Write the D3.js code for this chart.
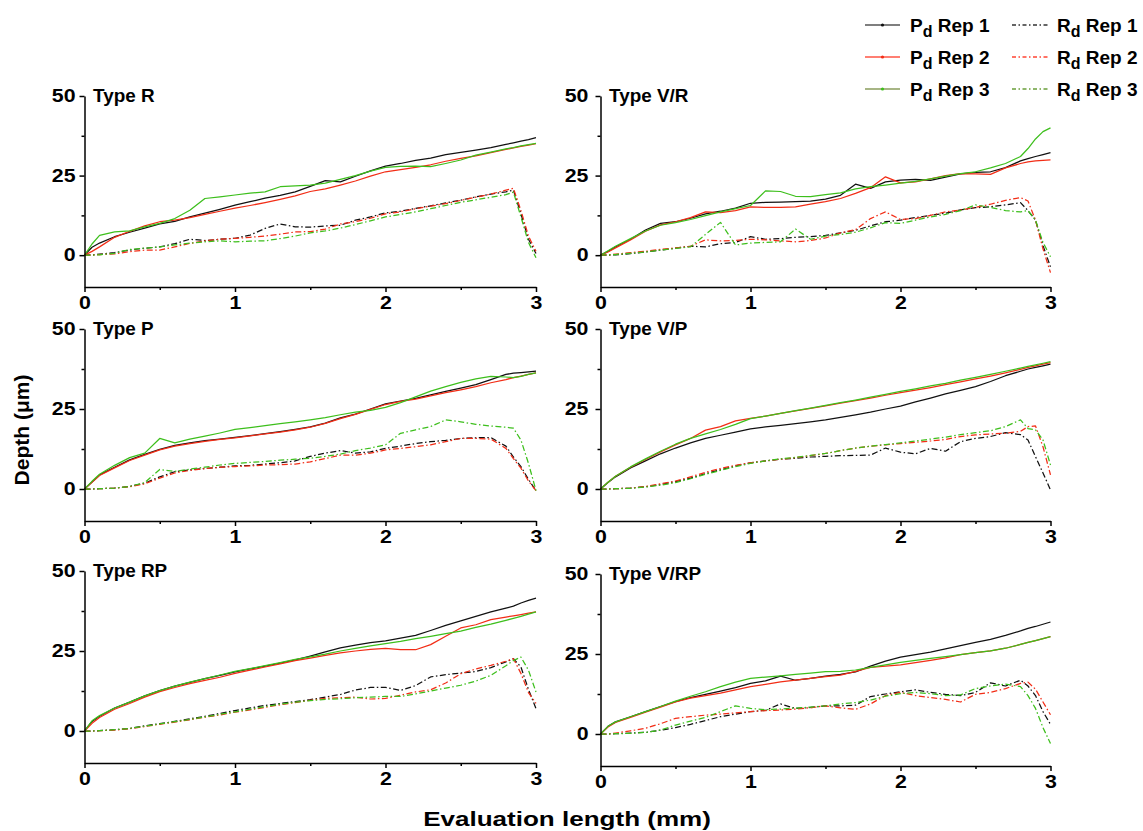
<!DOCTYPE html>
<html><head><meta charset="utf-8">
<script src="https://cdn.jsdelivr.net/npm/d3@7"></script>
<style>
body{margin:0;background:#fff}
svg{display:block}
text{font-family:"Liberation Sans",Arial,Helvetica,sans-serif;font-weight:bold;fill:#000}
</style>
</head><body><svg id="c" width="1143" height="831"></svg>
<script>
// ---------- data ----------
const xGrid = [0, 0.05, 0.1, 0.2, 0.3, 0.4, 0.5, 0.6, 0.7, 0.8,
               0.9, 1.0, 1.1, 1.2, 1.3, 1.4, 1.5, 1.6, 1.7, 1.8,
               1.9, 2.0, 2.1, 2.2, 2.3, 2.4, 2.5, 2.6, 2.7, 2.8,
               2.85, 2.9, 2.95, 3.0];
const panelTitles = ["Type R", "Type V/R", "Type P", "Type V/P", "Type RP", "Type V/RP"];
const seriesNames = ["Pd Rep 1", "Pd Rep 2", "Pd Rep 3", "Rd Rep 1", "Rd Rep 2", "Rd Rep 3"];
const xTicks = [0, 1, 2, 3];
const xMinorTicks = [0.5, 1.5, 2.5];
const yTicks = [0, 25, 50];
const yMinorTicks = [12.5, 37.5];
const xTitle = "Evaluation length (mm)";
const yTitle = "Depth (\u03bcm)";

// Type R
const R_Pd1 = [0, 2.5, 3.8, 5.8, 7.2, 8.5, 9.8, 10.6, 12.0, 13.2, 14.4, 15.7, 16.8, 17.9, 18.8, 19.9, 21.6, 23.4, 23.0, 24.8, 26.5, 28.0, 28.8, 29.8, 30.5, 31.6, 32.3, 33.0, 33.8, 34.8, 35.3, 35.8, 36.3, 36.9];
const R_Pd2 = [0, 1.2, 2.6, 5.6, 7.5, 9.2, 10.5, 11.0, 11.8, 12.8, 13.8, 14.8, 15.6, 16.5, 17.5, 18.6, 20.0, 20.8, 22.0, 23.3, 24.8, 26.2, 26.9, 27.6, 28.4, 29.5, 30.4, 31.2, 32.2, 33.2, 33.7, 34.2, 34.6, 35.0];
const R_Pd3 = [0, 3.5, 6.2, 7.3, 7.6, 8.9, 10.0, 11.5, 14.1, 17.8, 18.3, 18.9, 19.5, 19.9, 21.5, 21.8, 22.0, 22.6, 23.8, 25.0, 26.4, 27.6, 27.9, 28.0, 27.8, 28.8, 29.9, 31.4, 32.4, 33.4, 33.8, 34.3, 34.7, 35.1];
const R_Rd1 = [0, 0.1, 0.3, 0.8, 1.6, 2.2, 2.6, 3.6, 5.0, 4.6, 5.0, 5.3, 6.3, 8.4, 9.8, 8.9, 8.8, 9.2, 9.4, 11.0, 12.0, 13.3, 13.8, 14.7, 15.5, 16.4, 17.3, 18.3, 19.2, 19.9, 20.4, 13.0, 5.0, 0.5];
const R_Rd2 = [0, 0, 0.2, 0.4, 1.1, 1.6, 1.6, 2.6, 3.7, 4.5, 5.0, 5.3, 5.6, 6.0, 6.6, 7.3, 7.4, 8.2, 9.8, 10.5, 11.6, 13.0, 13.6, 14.6, 15.4, 16.2, 17.2, 18.2, 19.2, 20.4, 21.0, 14.0, 6.0, 1.2];
const R_Rd3 = [0, 0, 0.1, 0.6, 1.8, 2.2, 2.6, 3.2, 3.8, 4.2, 4.5, 4.2, 4.4, 4.5, 5.2, 6.0, 7.0, 7.6, 8.5, 9.6, 10.8, 12.0, 12.8, 13.6, 14.6, 15.6, 16.6, 17.4, 18.2, 19.0, 19.8, 12.0, 4.0, -0.8];
// Type V/R
const VR_Pd1 = [0, 1.2, 2.6, 5.0, 7.9, 10.0, 10.5, 11.6, 13.0, 13.8, 14.8, 16.3, 16.6, 16.7, 16.8, 17.0, 17.6, 18.8, 22.3, 21.0, 23.0, 23.6, 23.8, 23.5, 24.5, 25.5, 26.0, 26.2, 27.5, 29.6, 30.3, 31.0, 31.6, 32.2];
const VR_Pd2 = [0, 1.0, 2.3, 4.8, 7.5, 9.5, 10.5, 11.8, 13.6, 13.4, 14.0, 15.2, 15.0, 15.0, 15.2, 16.0, 16.8, 17.8, 19.4, 21.2, 24.6, 22.7, 23.0, 24.0, 25.0, 25.6, 25.5, 25.4, 27.4, 28.8, 29.3, 29.6, 29.8, 29.9];
const VR_Pd3 = [0, 1.4, 2.8, 5.2, 7.6, 9.4, 10.2, 11.2, 12.4, 13.6, 14.6, 15.6, 20.2, 20.0, 18.5, 18.4, 19.0, 19.6, 20.8, 21.5, 22.0, 22.6, 23.2, 24.0, 24.8, 25.6, 26.2, 27.4, 28.8, 31.0, 33.5, 36.5, 38.8, 40.0];
const VR_Rd1 = [0, 0, 0.1, 0.5, 1.0, 1.6, 2.2, 2.8, 2.6, 3.6, 4.0, 5.8, 5.0, 5.2, 5.6, 5.8, 6.2, 7.0, 7.8, 9.2, 10.5, 11.0, 11.8, 12.5, 13.2, 14.2, 14.9, 15.2, 15.8, 16.5, 14.0, 11.0, 3.0, -3.7];
const VR_Rd2 = [0, 0.1, 0.3, 0.8, 1.2, 1.8, 2.3, 2.8, 4.8, 4.5, 4.6, 5.0, 4.8, 4.5, 4.2, 4.6, 5.4, 7.0, 8.0, 11.5, 13.6, 11.2, 11.5, 12.5, 13.6, 14.2, 15.0, 16.0, 17.2, 18.1, 17.0, 11.0, 2.0, -5.5];
const VR_Rd3 = [0, 0.1, 0.2, 0.6, 1.0, 1.6, 2.1, 2.6, 6.5, 10.3, 3.2, 3.8, 4.0, 4.2, 8.2, 5.0, 6.0, 6.5, 7.2, 8.6, 10.2, 10.0, 11.0, 12.0, 12.8, 14.0, 15.8, 15.0, 14.0, 13.6, 14.0, 11.0, 4.0, -0.5];
// Type P
const P_Pd1 = [0, 2.2, 4.4, 6.8, 9.1, 10.8, 12.4, 13.6, 14.4, 15.1, 15.6, 16.1, 16.7, 17.3, 17.9, 18.6, 19.4, 20.6, 22.2, 23.4, 25.0, 26.6, 27.5, 28.3, 29.4, 30.5, 31.5, 32.6, 34.2, 35.8, 36.2, 36.4, 36.6, 36.8];
const P_Pd2 = [0, 2.1, 4.2, 6.6, 8.9, 10.6, 12.2, 13.4, 14.2, 14.9, 15.5, 16.0, 16.6, 17.2, 17.8, 18.5, 19.3, 20.5, 22.0, 23.3, 24.9, 26.4, 27.4, 28.1, 29.1, 30.1, 31.0, 32.0, 33.2, 34.2, 34.8, 35.3, 35.8, 36.3];
const P_Pd3 = [0, 2.4, 4.6, 7.4, 9.8, 11.2, 15.8, 14.4, 15.6, 16.5, 17.5, 18.6, 19.2, 19.8, 20.4, 21.0, 21.6, 22.3, 23.2, 24.0, 24.6, 25.5, 27.0, 28.8, 30.6, 32.0, 33.3, 34.4, 35.2, 35.0, 34.8, 35.2, 35.8, 36.3];
const P_Rd1 = [0, 0, 0.1, 0.3, 0.8, 1.8, 3.8, 5.4, 6.0, 6.4, 6.8, 7.2, 7.4, 7.8, 8.2, 8.8, 10.2, 11.2, 12.0, 11.2, 11.6, 12.7, 13.4, 14.2, 14.8, 15.2, 15.8, 16.0, 16.1, 13.4, 10.0, 7.0, 3.0, -0.5];
const P_Rd2 = [0, 0, 0.1, 0.3, 0.7, 1.6, 3.4, 5.0, 5.8, 6.4, 6.8, 7.0, 7.2, 7.5, 7.6, 7.8, 8.5, 9.5, 10.6, 10.6, 11.2, 12.2, 12.7, 13.2, 13.8, 14.8, 15.8, 15.8, 15.6, 12.7, 9.5, 6.5, 2.5, -0.5];
const P_Rd3 = [0, 0, 0.1, 0.3, 0.8, 2.0, 6.1, 5.5, 6.2, 6.8, 7.5, 8.0, 8.3, 8.6, 9.0, 9.3, 9.6, 10.2, 10.9, 12.0, 12.8, 13.8, 17.4, 18.5, 19.5, 21.6, 21.0, 20.2, 19.7, 19.3, 19.0, 15.3, 8.0, -0.5];
// Type V/P
const VP_Pd1 = [0, 2.0, 3.8, 6.6, 8.8, 11.0, 12.8, 14.4, 15.8, 16.8, 17.8, 18.8, 19.4, 19.9, 20.4, 21.0, 21.6, 22.4, 23.2, 24.0, 25.0, 25.9, 27.2, 28.4, 29.7, 30.8, 32.0, 33.6, 35.4, 36.8, 37.5, 38.0, 38.5, 39.0];
const VP_Pd2 = [0, 2.1, 4.0, 6.8, 9.2, 11.6, 13.8, 15.8, 18.4, 19.5, 21.3, 22.1, 22.8, 23.6, 24.4, 25.2, 26.0, 26.8, 27.6, 28.4, 29.3, 30.1, 30.9, 31.7, 32.6, 33.5, 34.4, 35.3, 36.3, 37.4, 38.0, 38.5, 39.0, 39.5];
const VP_Pd3 = [0, 2.1, 4.0, 6.9, 9.4, 11.8, 14.0, 15.8, 17.2, 18.6, 20.2, 22.0, 22.8, 23.6, 24.5, 25.3, 26.1, 27.0, 27.8, 28.7, 29.6, 30.5, 31.3, 32.2, 33.0, 34.0, 34.9, 35.8, 36.8, 37.8, 38.3, 38.8, 39.3, 39.8];
const VP_Rd1 = [0, 0, 0.1, 0.3, 0.7, 1.4, 2.3, 3.4, 4.8, 6.0, 7.2, 8.2, 8.8, 9.3, 9.6, 10.0, 10.2, 10.4, 10.5, 10.6, 12.8, 11.5, 11.0, 12.7, 11.8, 14.8, 15.8, 16.4, 17.6, 17.0, 15.3, 10.1, 5.0, -0.3];
const VP_Rd2 = [0, 0, 0.1, 0.3, 0.8, 1.6, 2.5, 3.8, 5.2, 6.4, 7.4, 8.2, 8.8, 9.3, 9.8, 10.4, 11.1, 12.0, 12.8, 13.4, 13.8, 14.2, 14.6, 15.0, 15.5, 16.4, 16.9, 17.2, 17.4, 18.0, 19.5, 19.7, 13.2, 4.4];
const VP_Rd3 = [0, 0, 0.1, 0.2, 0.6, 1.2, 2.0, 3.2, 4.6, 5.8, 7.0, 8.0, 8.8, 9.4, 9.9, 10.5, 11.1, 12.0, 12.8, 13.4, 13.9, 14.4, 15.0, 15.6, 16.2, 17.0, 17.6, 18.2, 19.5, 21.6, 18.9, 18.5, 15.3, 7.5];
// Type RP
const RP_Pd1 = [0, 3.0, 4.6, 7.2, 9.0, 11.0, 12.6, 14.0, 15.2, 16.4, 17.4, 18.5, 19.4, 20.3, 21.2, 22.2, 23.4, 24.7, 26.0, 26.8, 27.6, 28.2, 29.0, 29.9, 31.4, 33.0, 34.4, 35.8, 37.2, 38.4, 39.0, 40.0, 40.8, 41.5];
const RP_Pd2 = [0, 2.4, 4.2, 6.8, 8.6, 10.6, 12.3, 13.6, 14.8, 15.8, 16.8, 18.0, 19.0, 20.0, 21.0, 22.0, 22.8, 23.6, 24.4, 25.0, 25.5, 25.8, 25.4, 25.4, 27.0, 29.6, 32.2, 33.2, 34.8, 35.6, 36.0, 36.4, 36.8, 37.2];
const RP_Pd3 = [0, 3.2, 4.8, 7.2, 9.0, 11.0, 12.6, 14.0, 15.3, 16.4, 17.5, 18.6, 19.5, 20.4, 21.4, 22.4, 23.2, 24.0, 25.0, 25.8, 26.6, 27.3, 28.0, 28.9, 29.6, 30.4, 31.2, 32.4, 33.4, 34.6, 35.2, 35.8, 36.5, 37.2];
const RP_Rd1 = [0, 0, 0.1, 0.4, 0.8, 1.6, 2.3, 3.0, 3.8, 4.6, 5.5, 6.4, 7.2, 8.0, 8.6, 9.2, 9.8, 10.6, 11.4, 12.8, 13.6, 13.6, 12.7, 14.2, 16.9, 17.6, 18.1, 18.6, 19.8, 21.6, 22.6, 20.0, 13.0, 7.0];
const RP_Rd2 = [0, 0, 0.1, 0.3, 0.7, 1.4, 2.1, 2.8, 3.5, 4.3, 5.0, 5.9, 6.6, 7.4, 8.2, 8.9, 9.6, 10.2, 10.4, 10.6, 10.0, 10.2, 11.2, 12.2, 12.9, 15.0, 17.9, 19.4, 20.5, 21.8, 22.6, 18.0, 12.0, 8.6];
const RP_Rd3 = [0, 0, 0.1, 0.4, 0.8, 1.5, 2.2, 2.9, 3.6, 4.4, 5.2, 6.0, 6.8, 7.6, 8.4, 9.0, 9.5, 9.9, 10.1, 10.4, 10.6, 10.8, 10.8, 11.6, 12.5, 13.4, 14.3, 15.6, 17.4, 20.4, 22.0, 23.1, 19.0, 12.2];
// Type V/RP
const VRP_Pd1 = [0, 2.4, 3.8, 5.4, 7.0, 8.6, 10.1, 11.4, 12.4, 13.4, 14.5, 15.8, 16.6, 18.1, 16.8, 17.4, 18.1, 18.6, 19.4, 21.2, 22.8, 24.0, 24.8, 25.6, 26.6, 27.6, 28.6, 29.6, 30.8, 32.2, 33.0, 33.6, 34.3, 35.0];
const VRP_Pd2 = [0, 2.2, 3.6, 5.2, 6.8, 8.4, 10.0, 11.2, 12.0, 12.8, 13.8, 14.8, 15.5, 16.3, 16.8, 17.4, 17.9, 18.4, 19.6, 20.8, 21.2, 21.6, 22.3, 23.0, 23.8, 24.8, 25.4, 26.0, 26.8, 28.0, 28.6, 29.2, 29.8, 30.4];
const VRP_Pd3 = [0, 2.4, 3.8, 5.4, 7.0, 8.6, 10.3, 11.8, 13.2, 14.8, 16.2, 17.4, 17.8, 18.2, 18.6, 19.0, 19.5, 19.6, 20.0, 20.8, 21.6, 22.4, 23.0, 23.6, 24.2, 24.8, 25.4, 26.0, 26.8, 28.0, 28.6, 29.2, 29.8, 30.4];
const VRP_Rd1 = [0, 0, 0.1, 0.3, 0.5, 1.2, 2.0, 3.0, 4.2, 5.4, 6.2, 7.0, 7.4, 9.4, 8.0, 8.3, 8.8, 8.8, 9.0, 11.7, 12.5, 13.2, 13.8, 13.0, 12.4, 12.0, 13.0, 16.0, 15.0, 16.8, 15.0, 12.0, 7.0, 3.0];
const VRP_Rd2 = [0, 0, 0.3, 1.0, 1.8, 3.2, 4.9, 5.4, 5.9, 6.2, 6.6, 7.0, 7.3, 7.5, 7.8, 8.2, 8.8, 8.2, 7.7, 9.4, 12.0, 13.0, 12.0, 11.4, 10.8, 10.0, 12.4, 13.0, 14.2, 15.8, 16.2, 14.0, 10.0, 6.0];
const VRP_Rd3 = [0, 0, 0.1, 0.2, 0.5, 1.2, 2.8, 4.0, 5.2, 7.0, 8.8, 8.0, 7.6, 7.8, 8.1, 8.4, 8.8, 9.4, 9.8, 10.6, 11.8, 12.6, 13.0, 12.6, 12.0, 12.2, 14.2, 15.0, 15.6, 14.8, 12.0, 8.0, 2.0, -3.0];

const panelSeries = [
  [R_Pd1, R_Pd2, R_Pd3, R_Rd1, R_Rd2, R_Rd3],
  [VR_Pd1, VR_Pd2, VR_Pd3, VR_Rd1, VR_Rd2, VR_Rd3],
  [P_Pd1, P_Pd2, P_Pd3, P_Rd1, P_Rd2, P_Rd3],
  [VP_Pd1, VP_Pd2, VP_Pd3, VP_Rd1, VP_Rd2, VP_Rd3],
  [RP_Pd1, RP_Pd2, RP_Pd3, RP_Rd1, RP_Rd2, RP_Rd3],
  [VRP_Pd1, VRP_Pd2, VRP_Pd3, VRP_Rd1, VRP_Rd2, VRP_Rd3]
];

// ---------- styles / layout ----------
const seriesColors = ["#111111", "#f22d16", "#3dbf1c", "#111111", "#f22d16", "#3dbf1c"];
const legendColors = ["#555555", "#ff5544", "#8a9c5c", "#333333", "#ff4433", "#6a9e3a"];
const dashPattern = "6,2.5,1.5,2.5";
const layout = [
  {x0: 84.5, x1: 536,  yTop: 96,  yBot: 287, gap: 9},
  {x0: 600.5, x1: 1050.5, yTop: 96, yBot: 287, gap: 12},
  {x0: 84.5, x1: 536,  yTop: 329, yBot: 521, gap: 9},
  {x0: 600.5, x1: 1050.5, yTop: 329, yBot: 521, gap: 12},
  {x0: 84.5, x1: 536,  yTop: 571, yBot: 763, gap: 9},
  {x0: 600.5, x1: 1050.5, yTop: 574, yBot: 766, gap: 12}
];
const tickFont = 17.5, tickSX = 1.22;

const svg = d3.select("#c");

layout.forEach((L, i) => {
  const x = d3.scaleLinear().domain([0, 3]).range([L.x0, L.x1]);
  const y = d3.scaleLinear().domain([-10, 50]).range([L.yBot, L.yTop]);
  const g = svg.append("g");

  // series
  const line = d3.line().x(d => x(d[0])).y(d => y(d[1]));
  panelSeries[i].forEach((vals, k) => {
    const pts = xGrid.slice(0, vals.length).map((t, j) => [t, vals[j]]);
    g.append("path").datum(pts)
      .attr("d", line)
      .attr("fill", "none")
      .attr("stroke", seriesColors[k])
      .attr("stroke-width", 1.25)
      .attr("stroke-linejoin", "round")
      .attr("stroke-dasharray", k >= 3 ? dashPattern : null);
  });

  // y axis
  const ya = g.append("g").attr("transform", `translate(${L.x0},0)`)
    .call(d3.axisLeft(y).tickValues(yTicks).tickFormat(d3.format("d")).tickSize(5).tickSizeOuter(0).tickPadding(L.gap - 5));
  const yam = g.append("g").attr("transform", `translate(${L.x0},0)`)
    .call(d3.axisLeft(y).tickValues(yMinorTicks).tickSize(3).tickSizeOuter(0).tickFormat(""));
  yam.select(".domain").remove();
  // x axis
  const xa = g.append("g").attr("transform", `translate(0,${L.yBot})`)
    .call(d3.axisBottom(x).tickValues(xTicks).tickFormat(d3.format("d")).tickSize(5).tickSizeOuter(0).tickPadding(5));
  const xam = g.append("g").attr("transform", `translate(0,${L.yBot})`)
    .call(d3.axisBottom(x).tickValues(xMinorTicks).tickSize(3).tickSizeOuter(0).tickFormat(""));
  xam.select(".domain").remove();

  [ya, yam, xa, xam].forEach(a => {
    a.selectAll("path, line").attr("stroke", "#000").attr("stroke-width", 1.5);
  });
  [ya, xa].forEach(a => {
    a.selectAll("text")
      .attr("font-size", tickFont)
      .attr("font-weight", "bold")
      .attr("fill", "#000")
      .style("font-family", '"Liberation Sans", Arial, sans-serif');
  });
  ya.selectAll("text").each(function() {
    const t = d3.select(this);
    const xx = +t.attr("x");
    t.attr("x", xx / tickSX).attr("transform", `scale(${tickSX},1)`);
  });
  xa.selectAll("text").attr("transform", `scale(${tickSX},1)`);

  // panel title
  g.append("text")
    .attr("transform", `translate(${L.x0 + 8.5},${y(50) + 6}) scale(1.08,1)`)
    .attr("font-size", 17.5)
    .text(panelTitles[i]);
});

// axis titles
svg.append("text")
  .attr("transform", `translate(567,826) scale(1.24,1)`)
  .attr("text-anchor", "middle")
  .attr("font-size", 21)
  .text(xTitle);
svg.append("text")
  .attr("transform", `translate(29,430) rotate(-90) scale(1.05,1)`)
  .attr("text-anchor", "middle")
  .attr("font-size", 20)
  .text(yTitle);

// legend
const legCols = [{lx0: 865, lx1: 900, tx: 910}, {lx0: 1012, lx1: 1048, tx: 1057}];
const legRows = [25, 57, 89];
seriesNames.forEach((name, k) => {
  const c = legCols[Math.floor(k / 3)];
  const ry = legRows[k % 3];
  const lg = svg.append("g");
  lg.append("line")
    .attr("x1", c.lx0).attr("x2", c.lx1).attr("y1", ry).attr("y2", ry)
    .attr("stroke", legendColors[k]).attr("stroke-width", 1.3)
    .attr("stroke-dasharray", k >= 3 ? "4,2.5,1.5,2.5" : null);
  if (k < 3) {
    lg.append("circle").attr("cx", (c.lx0 + c.lx1) / 2).attr("cy", ry).attr("r", 1.6)
      .attr("fill", seriesColors[k]);
  }
  const t = lg.append("text").attr("x", c.tx).attr("y", ry + 7).attr("font-size", 19);
  t.append("tspan").text(name[0]);
  t.append("tspan").attr("dy", 5).attr("font-size", 16).text(name[1]);
  t.append("tspan").attr("dy", -5).text(name.slice(2));
});
</script>
</body></html>
